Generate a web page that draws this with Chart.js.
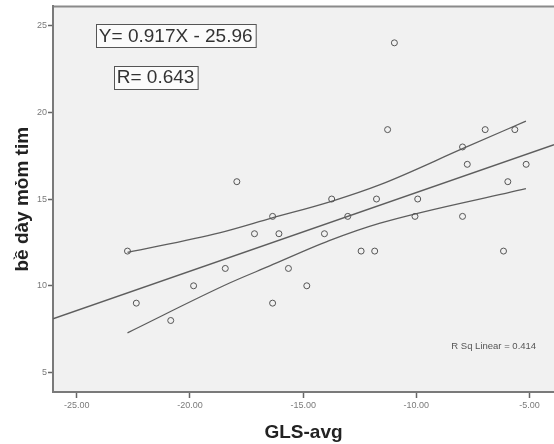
<!DOCTYPE html>
<html>
<head>
<meta charset="utf-8">
<script src="https://cdn.jsdelivr.net/npm/chart.js@4.4.1/dist/chart.umd.min.js"></script>
<style>
  body { margin: 0; background: #ffffff; }
</style>
</head>
<body>
<canvas id="myChart" width="554" height="444"></canvas>
<script>
// observed points (GLS-avg, bề dày mỏm tim)
const glsAvg = [-22.76, -22.37, -20.85, -19.84, -18.44, -17.93, -17.15, -16.35, -16.35, -16.07,
  -15.65, -14.84, -14.06, -13.74, -13.03, -12.44, -11.84, -11.76, -11.27, -10.97,
  -10.06, -9.94, -7.96, -7.96, -7.75, -6.96, -6.15, -5.96, -5.65, -5.15];
const thickness = [12, 9, 8, 10, 11, 16, 13, 14, 9, 13,
  11, 10, 13, 15, 14, 12, 12, 15, 19, 24,
  14, 15, 18, 14, 17, 19, 12, 16, 19, 17];

// fit line ends and confidence band
const fitX = [-26.05, -3.92];
const fitY = [8.10, 18.13];
const upperX = [-22.76, -18.7, -16.4, -13.75, -11.6, -7.96, -5.16];
const upperY = [11.92, 13.05, 13.9, 14.87, 15.83, 17.9, 19.49];
const lowerX = [-22.76, -18.25, -16.5, -13.85, -11.6, -5.16];
const lowerY = [7.29, 10.16, 11.13, 12.6, 13.61, 15.6];

const xTicks = [-25, -20, -15, -10, -5];
const yTicks = [5, 10, 15, 20, 25];

const eqText = "Y= 0.917X - 25.96";
const rText = "R= 0.643";
const rsqText = "R Sq Linear = 0.414";

const FONT = "'Liberation Sans', Arial, sans-serif";
const toXY = (xs, ys) => xs.map((x, i) => ({ x: x, y: ys[i] }));

// plot background, top frame and text boxes
const framePlugin = {
  id: "frame",
  beforeDraw(chart) {
    const { ctx, chartArea } = chart;
    ctx.save();
    ctx.fillStyle = "#f1f1f1";
    ctx.fillRect(chartArea.left, chartArea.top, chartArea.right - chartArea.left, chartArea.bottom - chartArea.top);
    ctx.strokeStyle = "#8a8a8a";
    ctx.lineWidth = 2;
    ctx.beginPath();
    ctx.moveTo(chartArea.left, chartArea.top);
    ctx.lineTo(chartArea.right, chartArea.top);
    ctx.stroke();
    ctx.restore();
  },
  afterDraw(chart) {
    const { ctx } = chart;
    const xs = chart.scales.x;
    const ys = chart.scales.y;
    ctx.save();
    const box = (text, cx, cy) => {
      ctx.font = "19px " + FONT;
      const w = ctx.measureText(text).width + 6;
      const h = 23;
      const left = Math.round(cx - w / 2) + 0.5;
      const top = Math.round(cy - h / 2) + 0.5;
      ctx.fillStyle = "#fbfbfb";
      ctx.fillRect(left, top, w, h);
      ctx.strokeStyle = "#555555";
      ctx.lineWidth = 1;
      ctx.strokeRect(left, top, w, h);
      ctx.fillStyle = "#333333";
      ctx.textAlign = "center";
      ctx.textBaseline = "middle";
      ctx.fillText(text, cx, cy + 1);
    };
    box(eqText, xs.getPixelForValue(-20.63), ys.getPixelForValue(24.4));
    box(rText, xs.getPixelForValue(-21.52), ys.getPixelForValue(22.03));
    ctx.font = "9.5px " + FONT;
    ctx.fillStyle = "#555555";
    ctx.textAlign = "right";
    ctx.textBaseline = "middle";
    ctx.fillText(rsqText, xs.getPixelForValue(-4.71), ys.getPixelForValue(6.49));
    ctx.restore();
  },
};

const ctx = document.getElementById("myChart").getContext("2d");
const lineStyle = {
  type: "line",
  borderColor: "#5e5e5e",
  borderWidth: 1.3,
  pointRadius: 0,
  fill: false,
};

const myChart = new Chart(ctx, {
  type: "scatter",
  data: {
    datasets: [
      {
        label: "points",
        data: toXY(glsAvg, thickness),
        pointStyle: "circle",
        pointRadius: 3,
        borderColor: "#555555",
        borderWidth: 1,
        backgroundColor: "rgba(0,0,0,0)",
      },
      Object.assign({ label: "fit", data: toXY(fitX, fitY) }, lineStyle),
      Object.assign({ label: "upper", data: toXY(upperX, upperY), cubicInterpolationMode: "monotone" }, lineStyle),
      Object.assign({ label: "lower", data: toXY(lowerX, lowerY), cubicInterpolationMode: "monotone" }, lineStyle),
    ],
  },
  options: {
    responsive: false,
    animation: false,
    layout: { autoPadding: false, padding: { top: 6, right: 0, left: 0, bottom: 0 } },
    plugins: {
      legend: { display: false },
      tooltip: { enabled: false },
    },
    scales: {
      x: {
        type: "linear",
        min: -26.05,
        max: -3.92,
        afterBuildTicks: (scale) => {
          scale.ticks = xTicks.map((v) => ({ value: v }));
        },
        afterFit: (scale) => {
          scale.height = 52;
        },
        ticks: {
          font: { size: 9, family: FONT },
          color: "#7a7a7a",
          padding: 2,
          maxRotation: 0,
          callback: (v) => Number(v).toFixed(2),
        },
        grid: { drawOnChartArea: false, tickLength: 6, tickColor: "#666666", tickWidth: 1.5 },
        border: { display: true, color: "#7a7a7a", width: 2 },
        title: {
          display: true,
          text: "GLS-avg",
          color: "#222222",
          font: { size: 19, weight: "bold", family: FONT },
          padding: { top: 0, bottom: 0 },
        },
      },
      y: {
        type: "linear",
        min: 3.88,
        max: 26.1,
        afterBuildTicks: (scale) => {
          scale.ticks = yTicks.map((v) => ({ value: v }));
        },
        afterFit: (scale) => {
          scale.width = 53;
        },
        ticks: {
          font: { size: 9, family: FONT },
          color: "#7a7a7a",
          padding: 1,
        },
        grid: { drawOnChartArea: false, tickLength: 5, tickColor: "#666666", tickWidth: 1.5 },
        border: { display: true, color: "#7a7a7a", width: 2 },
        title: {
          display: true,
          text: "bề dày mỏm tim",
          color: "#222222",
          font: { size: 19, weight: "bold", family: FONT },
          padding: { top: 11, bottom: 0 },
        },
      },
    },
  },
  plugins: [framePlugin],
});
</script>
</body>
</html>
